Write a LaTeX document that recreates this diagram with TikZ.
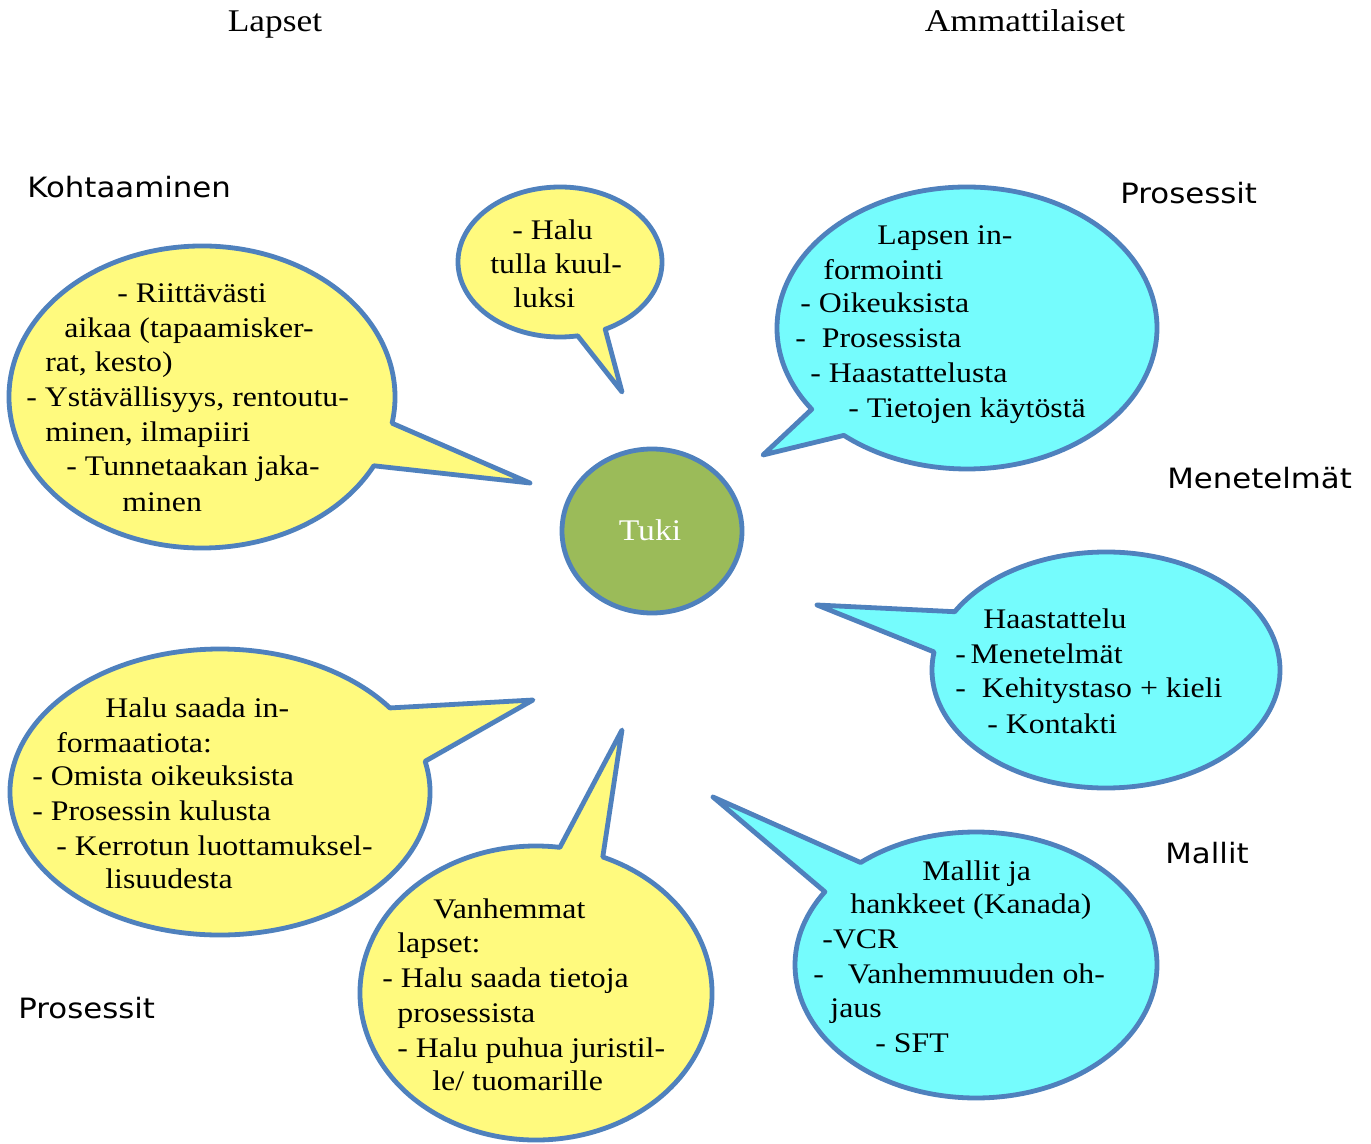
\documentclass[tikz,border=0pt]{standalone}
\usepackage{fontspec}
\setmainfont{Liberation Serif}[FakeStretch=1.12]
\newfontfamily\hdfont{DejaVu Sans}[FakeStretch=1.1]
\definecolor{byel}{HTML}{FFFA7E}
\definecolor{bcyan}{HTML}{75FCFD}
\definecolor{bblue}{HTML}{4F81BD}
\definecolor{tgreen}{HTML}{9BBB59}
\newcommand\bubble[9]{%
  \path[bubble,fill=#9] ({#1+#3*cos(#5)},{#2+#4*sin(#5)})
    arc[start angle=#5,end angle=#6,x radius=#3,y radius=#4] -- (#7,#8) -- cycle;}
\begin{document}
\begin{tikzpicture}[x=0.5pt,y=-0.5pt,
  bubble/.style={draw=bblue,line width=2.4pt,line join=round},
  ln/.style={anchor=base west,inner sep=0pt,font=\fontsize{14.2}{16}\selectfont},
  top/.style={anchor=base,inner sep=0pt,font=\fontsize{15.8}{18}\selectfont},
  hd/.style={anchor=base west,inner sep=0pt,font=\hdfont\fontsize{14}{16}\selectfont}]
\useasboundingbox[fill=white] (0,0) rectangle (1371,1144);

% balloons
\bubble{202}{397}{193}{151}{27.1}{370}{530}{483}{byel}
\bubble{560}{262}{102}{75}{80}{423.7}{622}{392}{byel}
\bubble{967}{328}{190}{141}{144.8}{490.4}{763}{455}{bcyan}
\bubble{1106}{670}{174}{118}{209.6}{548.8}{817}{605}{bcyan}
\bubble{976}{965}{181}{133}{230.4}{573.4}{713}{797}{bcyan}
\bubble{220}{792}{210}{143}{347.6}{684}{533}{700}{byel}
\bubble{536}{993}{176}{147}{292.3}{637.8}{622}{730}{byel}

% centre
\path[bubble,fill=tgreen] (652,531) ellipse[x radius=90,y radius=82];
\node[inner sep=0pt,text=white,font=\fontsize{15}{18}\selectfont] (tuki) at (650,530) {Tuki};

% headings
\node[top] (lapset) at (275,32) {Lapset};
\node[top] (ammat) at (1025,32) {Ammattilaiset};
\node[hd] (h1) at (27,198) {Kohtaaminen};
\node[hd] (h2) at (1120,204) {Prosessit};
\node[hd] (h3) at (1167,488) {Menetelmät};
\node[hd] (h4) at (1165,863) {Mallit};
\node[hd] (h5) at (18,1018) {Prosessit};

% balloon 1
\node[ln] (b1a) at (117,303) {- Riittävästi};
\node[ln] (b1b) at (64,338) {aikaa (tapaamisker-};
\node[ln] (b1c) at (45,372) {rat, kesto)};
\node[ln] (b1d) at (26,407) {- Ystävällisyys, rentoutu-};
\node[ln] (b1e) at (45,442) {minen, ilmapiiri};
\node[ln] (b1f) at (66,476) {- Tunnetaakan jaka-};
\node[ln] (b1g) at (122,511) {minen};

% balloon 2
\node[ln] (b2a) at (512,240) {- Halu};
\node[ln] (b2b) at (490,274) {tulla kuul-};
\node[ln] (b2c) at (513,308) {luksi};

% balloon 3
\node[ln] (b3a) at (877,245) {Lapsen in-};
\node[ln] (b3b) at (823,280) {formointi};
\node[ln] (b3c) at (800,313) {- Oikeuksista};
\node[ln] (b3d) at (795,348) {-~~Prosessista};
\node[ln] (b3e) at (810,383) {- Haastattelusta};
\node[ln] (b3f) at (848,418) {- Tietojen käytöstä};

% balloon 4
\node[ln] (b4a) at (983,628) {Haastattelu};
\node[ln] (b4b) at (955,663) {-\,Menetelmät};
\node[ln] (b4c) at (955,697) {-~~Kehitystaso + kieli};
\node[ln] (b4d) at (987,733) {- Kontakti};

% balloon 5
\node[ln] (b5a) at (922,880) {Mallit ja};
\node[ln] (b5b) at (850,913) {hankkeet (Kanada)};
\node[ln] (b5c) at (822,948) {-VCR};
\node[ln] (b5d) at (813,983) {-~~~Vanhemmuuden oh-};
\node[ln] (b5e) at (830,1017) {jaus};
\node[ln] (b5f) at (875,1052) {- SFT};

% balloon 6
\node[ln] (b6a) at (105,717) {Halu saada in-};
\node[ln] (b6b) at (56,752) {formaatiota:};
\node[ln] (b6c) at (32,785) {- Omista oikeuksista};
\node[ln] (b6d) at (32,820) {- Prosessin kulusta};
\node[ln] (b6e) at (56,855) {- Kerrotun luottamuksel-};
\node[ln] (b6f) at (105,888) {lisuudesta};

% balloon 7
\node[ln] (b7a) at (433,918) {Vanhemmat};
\node[ln] (b7b) at (397,952) {lapset:};
\node[ln] (b7c) at (382,987) {- Halu saada tietoja};
\node[ln] (b7d) at (397,1022) {prosessista};
\node[ln] (b7e) at (397,1057) {- Halu puhua juristil-};
\node[ln] (b7f) at (432,1090) {le/ tuomarille};
\end{tikzpicture}
\end{document}
